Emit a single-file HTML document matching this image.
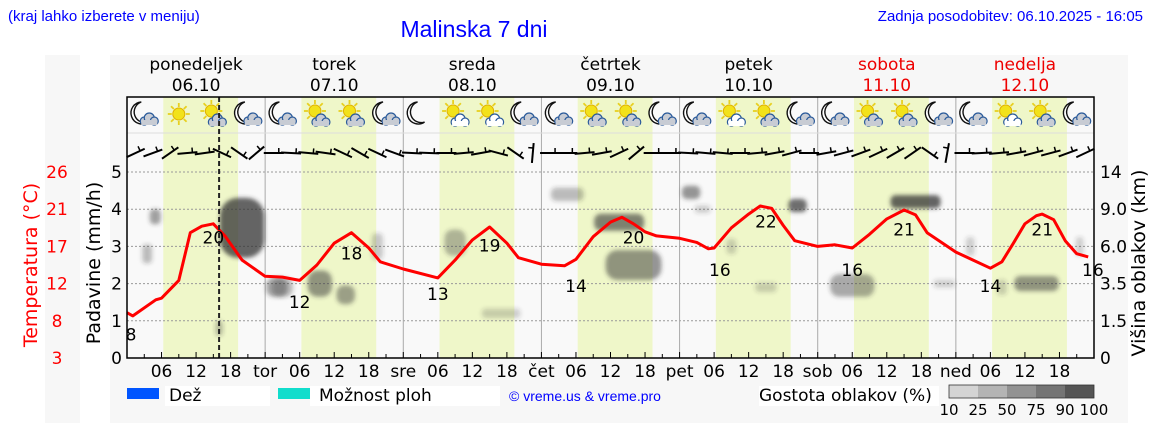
<!DOCTYPE html>
<html><head><meta charset="utf-8"><style>
html,body{margin:0;padding:0;background:#fff;width:1152px;height:443px;overflow:hidden}
svg{display:block}
.dj{font-family:"DejaVu Sans","Liberation Sans",sans-serif}
.lb{font-family:"Liberation Sans",sans-serif}
</style></head><body>
<svg id="c" width="1152" height="443" viewBox="0 0 1152 443" xmlns="http://www.w3.org/2000/svg">
<defs>
<filter id="bl" x="-50%" y="-50%" width="200%" height="200%"><feGaussianBlur stdDeviation="2"/></filter>
</defs>
<text class="lb" x="8" y="21" font-size="15" fill="#0000ff">(kraj lahko izberete v meniju)</text>
<text class="lb" x="474" y="37" font-size="23" fill="#0000ff" text-anchor="middle">Malinska 7 dni</text>
<text class="lb" x="1143" y="21" font-size="15" fill="#0000ff" text-anchor="end">Zadnja posodobitev: 06.10.2025 - 16:05</text>
<rect x="45" y="55" width="35" height="368" fill="#f7f7f7"/>
<rect x="110" y="55" width="1018" height="368" fill="#f7f7f7"/>
<rect x="127" y="97" width="967" height="261" fill="#f9f9f9"/>
<g id="bands"></g><g id="grid"></g><g id="clouds"></g><g id="icons"></g><g id="wind"></g><g id="temp"></g><g id="axes"></g>
</svg>
<script>
const dayNames=["ponedeljek","torek","sreda","četrtek","petek","sobota","nedelja"];
const dayDates=["06.10","07.10","08.10","09.10","10.10","11.10","12.10"];
const dayAbbr=["","tor","sre","čet","pet","sob","ned"];
const leftTicks=[0,1,2,3,4,5];
const tempTicks=["3","8","12","17","21","26"];
const cloudTicks=["0","1.5","3.5","6.0","9.0","14"];
const tempHours=[0,1,5,6,9,11,13,15,17,20,24,27,30,33,36,39,42,44,48,54,57,60,63,66,68,72,76,78,81,84,86,88,90,92,96,99,101,102,105,108,110,112,114,116,120,123,126,129,132,135,137,139,144,147,150,152,154,156,158,159,161,163,165,167];
const tempVals=[8.6,8.2,10.2,10.4,12.6,18.5,19.3,19.6,18.1,15.1,13.1,13.0,12.6,14.5,17.2,18.5,16.6,14.9,14.0,12.9,15.1,17.6,19.2,17.2,15.4,14.6,14.4,15.2,18.0,19.8,20.4,19.6,18.6,18.1,17.8,17.3,16.5,16.6,19.1,20.8,21.8,21.5,19.4,17.5,16.8,17.0,16.6,18.3,20.2,21.3,20.7,18.5,16.1,15.1,14.1,14.9,17.2,19.6,20.6,20.8,20.1,17.5,15.9,15.5];
const extHours=[0.7,15,30,39,54,63,78,88,103,111,126,135,150,159,167.8];
const extVals=[8,20,12,18,13,19,14,20,16,22,16,21,14,21,16];
const iconTypes=["mc","s","sc","mc","mc","sc","sc","mc","m","sw","sw","mc","mc","sc","sc","mc","mc","sw","sc","mc","mc","sc","sc","mc","mc","sw","sc","mc"];
const windAngles=[-25,-20,-35,-5,-8,25,35,-40,0,3,5,8,25,30,25,20,3,2,0,-5,-10,15,35,-85,0,0,-5,-10,-25,-40,0,0,3,5,5,0,-5,-10,-15,0,-10,-15,-20,-25,-30,-35,35,-80,0,-3,-5,-10,-15,-15,-20,-25];
const cloudH=[4.9,3.5,20,26,27,33.5,38,43.5,57,65,76.5,85.5,88,98,100,105,111,116.5,126,137,142,146.5,152,158,165.5,16];
const cloudL=[3.8,2.8,3.5,1.9,1.9,2.0,1.7,3.0,3.1,1.2,4.4,3.65,2.5,4.45,4.0,3.0,1.9,4.1,1.95,4.2,2.0,3.0,1.9,2.0,3.0,0.8];
const cloudW=[1.2,1,7,3,3,3.5,2.5,1.2,3,6,5,8,9,2.5,2,1,3,2.5,7,8,3,0.8,1,7,0.6,0.6];
const cloudHt=[0.3,0.4,1.5,0.4,0.4,0.6,0.4,0.6,0.6,0.15,0.25,0.35,0.7,0.25,0.1,0.3,0.15,0.25,0.5,0.25,0.1,0.4,0.3,0.3,0.4,0.3];
const cloudD=[0.45,0.3,0.75,0.4,0.3,0.5,0.45,0.25,0.35,0.22,0.3,0.6,0.5,0.5,0.22,0.22,0.22,0.7,0.4,0.75,0.22,0.22,0.22,0.5,0.22,0.3];
const cbLabels=["10","25","50","75","90","100"];
const cbColors=["#d4d4d4","#b4b4b4","#929292","#747474","#555555"];

const NS="http://www.w3.org/2000/svg";
const X0=127,X1=1094,Y0=358,U=37.2;
const xH=h=>X0+h*(X1-X0)/168;
const yL=l=>Y0-l*U;
const yT=t=>Y0-(t-3)/4.6*U;
function mk(par,tag,at,txt){const e=document.createElementNS(NS,tag);for(const k in at)e.setAttribute(k,at[k]);if(txt!==undefined)e.textContent=txt;document.getElementById(par).appendChild(e);return e;}

for(let d=0;d<7;d++){
  let e=mk("bands","rect",{x:xH(d*24+6.3),y:97,width:xH(13)-X0,height:261,fill:"#eff7c9"});
  
  
  const col=d>=5?"#ee0000":"#000";
  e=mk("axes","text",{x:xH(d*24+12),y:70,"font-size":17,"text-anchor":"middle",fill:col,class:"dj"},dayNames[d]);
  
  
  e=mk("axes","text",{x:xH(d*24+12),y:91,"font-size":17,"text-anchor":"middle",fill:col,class:"dj"},dayDates[d]);
  
  
}
for(const l of leftTicks){ if(l===0)continue;
  const e=mk("grid","line",{x1:X0,x2:X1,y1:yL(l),y2:yL(l),stroke:"#999","stroke-dasharray":"2,2","stroke-width":1});
  
  
}
for(let d=1;d<7;d++){
  const e=mk("grid","line",{x1:xH(d*24),x2:xH(d*24),y1:97,y2:Y0,stroke:"#aaa","stroke-width":1});
  
  
}
mk("grid","line",{x1:X0,x2:X1,y1:133,y2:133,stroke:"#ddd"});
for(let i=0;i<cloudH.length;i++){
  const w=Math.max(6,(xH(cloudW[i])-X0)+4),h=Math.max(6,cloudHt[i]*U+4);
  const e=mk("clouds","rect",{x:xH(cloudH[i])-w/2,y:yL(cloudL[i])-h/2,width:w,height:h,rx:Math.min(w,h)/2.5,fill:"#333","fill-opacity":cloudD[i],filter:"url(#bl)"});
  
  
}
function cloud(g,cx,cy,fill){
  const gg=document.createElementNS(NS,"g");g.appendChild(gg);
  for(const [dx,dy,r] of [[-5,2,4],[0,-1,5],[5,2,4]]){const c=document.createElementNS(NS,"circle");c.setAttribute("cx",cx+dx);c.setAttribute("cy",cy+dy);c.setAttribute("r",r);c.setAttribute("fill",fill);c.setAttribute("stroke","#2a5a9a");c.setAttribute("stroke-width",1.2);gg.appendChild(c);}
  const r=document.createElementNS(NS,"rect");r.setAttribute("x",cx-8);r.setAttribute("y",cy+1);r.setAttribute("width",16);r.setAttribute("height",5);r.setAttribute("fill",fill);gg.appendChild(r);
}
for(let i=0;i<iconTypes.length;i++){
  const t=iconTypes[i],cx=xH(3+6*i),cy=114;
  const g=mk("icons","g",{});
  
  
  if(t[0]==="m"){
    const p=document.createElementNS(NS,"path");
    p.setAttribute("d",`M${cx-3},${cy-12} A11,11 0 1,0 ${cx+4},${cy+8} A9,9 0 1,1 ${cx-3},${cy-12} Z`);
    p.setAttribute("fill","#fff");p.setAttribute("stroke","#111");p.setAttribute("stroke-width",1.4);g.appendChild(p);
    if(t==="mc")cloud(g,cx+5,cy+5,"#c8ccd4");
  }else{
    const sx=t==="s"?cx:cx-2,sy=t==="s"?cy:cy-3;
    for(let a=0;a<8;a++){const l=document.createElementNS(NS,"line");const an=a*Math.PI/4;l.setAttribute("x1",sx+Math.cos(an)*7);l.setAttribute("y1",sy+Math.sin(an)*7);l.setAttribute("x2",sx+Math.cos(an)*11);l.setAttribute("y2",sy+Math.sin(an)*11);l.setAttribute("stroke","#e8d020");l.setAttribute("stroke-width",1.8);g.appendChild(l);}
    const c=document.createElementNS(NS,"circle");c.setAttribute("cx",sx);c.setAttribute("cy",sy);c.setAttribute("r",6);c.setAttribute("fill","#f2e21a");c.setAttribute("stroke","#e0b000");g.appendChild(c);
    if(t==="sc")cloud(g,cx+4,cy+6,"#c8ccd4");
    if(t==="sw")cloud(g,cx+5,cy+6,"#ffffff");
  }
}
for(let i=0;i<windAngles.length;i++){
  const cx=xH(1.5+3*i),cy=153,a=windAngles[i]*Math.PI/180,L=10;
  const dx=Math.cos(a)*L,dy=Math.sin(a)*L;
  const e=mk("wind","line",{x1:cx-dx,y1:cy-dy,x2:cx+dx,y2:cy+dy,stroke:"#000","stroke-width":2});
  
  
  const tx=cx+dx*0.5,ty=cy+dy*0.5,px=-Math.sin(a)*5,py=Math.cos(a)*5;
  mk("wind","line",{x1:tx,y1:ty,x2:tx-px,y2:ty-py,stroke:"#000","stroke-width":1.5});
}
let d="";for(let i=0;i<tempHours.length;i++)d+=(i?"L":"M")+xH(tempHours[i]).toFixed(1)+","+yT(tempVals[i]).toFixed(1);
let e=mk("temp","path",{d:d,fill:"none",stroke:"#ff0000","stroke-width":3,"stroke-linejoin":"round"});


for(let i=0;i<extHours.length;i++){
  e=mk("temp","text",{x:xH(extHours[i]),y:yT(extVals[i])+23,"font-size":17,"text-anchor":"middle",class:"dj",fill:"#000"},String(extVals[i]));
  
  
}
e=mk("axes","line",{x1:xH(16),x2:xH(16),y1:97,y2:Y0,stroke:"#222","stroke-width":2,"stroke-dasharray":"5,3"});


e=mk("axes","rect",{x:X0,y:97,width:X1-X0,height:Y0-97,fill:"none",stroke:"#000","stroke-width":1.5});


for(let h=0;h<=168;h+=3){
  e=mk("axes","line",{x1:xH(h),x2:xH(h),y1:Y0,y2:Y0-(h%6===0?6:4),stroke:"#000"});
  
  
}
for(let dd=0;dd<7;dd++){
  const labs=[[0,dayAbbr[dd]],[6,"06"],[12,"12"],[18,"18"]];
  for(const [h,s] of labs){ if(!s)continue;
    e=mk("axes","text",{x:xH(dd*24+h),y:377,"font-size":17,"text-anchor":"middle",class:"dj"},s);
    
    
  }
}
for(let i=0;i<leftTicks.length;i++){
  e=mk("axes","text",{x:122,y:yL(leftTicks[i])+6,"font-size":17,"text-anchor":"end",class:"dj"},String(leftTicks[i]));
  
  
  e=mk("axes","text",{x:57,y:yL(leftTicks[i])+6,"font-size":17,"text-anchor":"middle",class:"dj",fill:"#ff0000"},tempTicks[i]);
  
  
  e=mk("axes","text",{x:1100,y:yL(leftTicks[i])+6,"font-size":17,class:"dj"},cloudTicks[i]);
  
  
}
e=mk("axes","text",{x:0,y:0,"font-size":19,"text-anchor":"middle",class:"dj",fill:"#ff0000",transform:"translate(37,265) rotate(-90)"},"Temperatura (°C)");


e=mk("axes","text",{x:0,y:0,"font-size":19,"text-anchor":"middle",class:"dj",transform:"translate(100,263) rotate(-90)"},"Padavine (mm/h)");


e=mk("axes","text",{x:0,y:0,"font-size":19,"text-anchor":"middle",class:"dj",transform:"translate(1145,263) rotate(-90)"},"Višina oblakov (km)");


mk("axes","rect",{x:127,y:388,width:32,height:11,fill:"#0055ff"});
mk("axes","rect",{x:165,y:386,width:105,height:20,fill:"#fff"});
e=mk("axes","text",{x:169,y:401,"font-size":17,class:"dj"},"Dež");


mk("axes","rect",{x:278,y:388,width:32,height:11,fill:"#11ddcc"});
mk("axes","rect",{x:310,y:386,width:190,height:20,fill:"#fff"});
e=mk("axes","text",{x:319,y:401,"font-size":17,class:"dj"},"Možnost ploh");


e=mk("axes","text",{x:585,y:401,"font-size":14,"text-anchor":"middle",class:"lb",fill:"#0000ff"},"© vreme.us & vreme.pro");


mk("axes","rect",{x:759,y:386,width:180,height:20,fill:"#fff"});
e=mk("axes","text",{x:759,y:401,"font-size":17,class:"dj"},"Gostota oblakov (%)");


for(let i=0;i<cbColors.length;i++){
  e=mk("axes","rect",{x:949+i*29,y:385,width:29,height:13,fill:cbColors[i]});
  
  
}
mk("axes","rect",{x:949,y:385,width:145,height:13,fill:"none",stroke:"#333","stroke-width":0.8});
for(let i=0;i<cbLabels.length;i++){
  e=mk("axes","text",{x:949+i*29,y:415,"font-size":15,"text-anchor":"middle",class:"dj"},cbLabels[i]);
  
  
}
</script>
</body></html>
